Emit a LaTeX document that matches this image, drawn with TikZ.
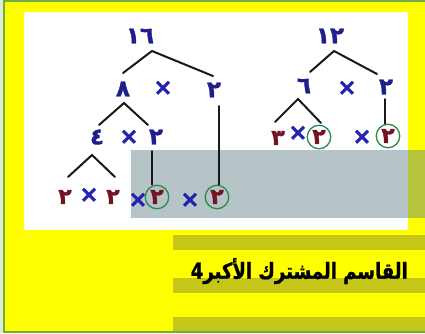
\documentclass[tikz,border=0pt]{standalone}
\usepackage{fontspec}
\TeXXeTstate=1
\newfontfamily\titlefont[Script=Arabic,BoldFeatures={FakeBold=1.4}]{DejaVu Sans}
\newfontfamily\digfont[Script=Arabic,BoldFeatures={FakeBold=1.5}]{DejaVu Sans}
\definecolor{bordergreen}{RGB}{112,173,71}
\definecolor{paleedge}{RGB}{226,236,204}
\definecolor{bgyellow}{RGB}{255,255,0}
\definecolor{olivebar}{RGB}{198,198,24}
\definecolor{veilgray}{RGB}{95,125,135}
\definecolor{numblue}{RGB}{30,30,140}
\definecolor{numred}{RGB}{115,20,35}
\definecolor{crossblue}{RGB}{35,35,175}
\definecolor{circgreen}{RGB}{40,140,70}
\tikzset{
  num/.style={font=\digfont\bfseries\fontsize{23}{23}\selectfont, text=numblue, inner sep=0pt},
  rnum/.style={font=\digfont\bfseries\fontsize{22}{22}\selectfont, text=numred, inner sep=0pt},
  cnum/.style={rnum, circle, draw=circgreen, line width=1.3pt, minimum size=23.5pt},
  cross/.style={font=\digfont\bfseries\fontsize{23}{23}\selectfont, text=crossblue, inner sep=0pt},
  branch/.style={line width=2pt, black!90, line cap=round},
  bar/.style={fill=olivebar, draw=none},
}
\begin{document}
\begin{tikzpicture}[x=1pt,y=-1pt]
\useasboundingbox (0,0) rectangle (425,333);
% background
\fill[bgyellow] (0,0) rectangle (425,333);
\fill[paleedge] (0,0) rectangle (3,333);
\draw[bordergreen, line width=2.4pt] (4.2,1) -- (4.2,332);
\draw[bordergreen, line width=2pt] (3,1) -- (425,1);
\draw[bordergreen, line width=2pt] (3,332) -- (425,332);
% white panel
\fill[white] (24,12) rectangle (408,230);
% olive bars
\fill[bar] (173,235) rectangle (425,250);
\fill[bar] (173,278) rectangle (425,292.5);
\fill[bar] (173,317) rectangle (425,331);
% grey veil
\fill[veilgray, opacity=0.45] (131,150) rectangle (425,218);

% ---- left tree (16)
\node[num] (n16) at (140,36) {١٦};
\node[num] (n8) at (123,89) {٨};
\node[cross] (x1) at (163,88) {×};
\node[num] (n2a) at (214,90) {٢};
\node[num] (n4) at (97,137) {٤};
\node[cross] (x2) at (129,137) {×};
\node[num] (n2b) at (156,137) {٢};
\node[rnum] (r1) at (65,197) {٢};
\node[cross] (x3) at (89,195) {×};
\node[rnum] (r2) at (113,197) {٢};
\node[cross] (x4) at (138,200) {×};
\node[cnum] (c1) at (157,197) {٢};
\node[cross] (x5) at (190,200) {×};
\node[cnum] (c2) at (217,197) {٢};

\coordinate (a16) at (152,51);
\coordinate (e16l) at (123,73);
\coordinate (e16r) at (213,76);
\coordinate (a8) at (124,103);
\coordinate (e8l) at (99,125);
\coordinate (e8r) at (148,125);
\coordinate (a4) at (92,155);
\coordinate (e4l) at (68,177);
\coordinate (e4r) at (115,177);
\coordinate (v1) at (152,151);
\coordinate (v2) at (219,106);

\draw[branch] (e16l) -- (a16) -- (e16r);
\draw[branch] (e8l) -- (a8) -- (e8r);
\draw[branch] (e4l) -- (a4) -- (e4r);
\draw[branch] (v1) -- (v1 |- c1.north);
\draw[branch] (v2) -- (v2 |- c2.north);

% ---- right tree (12)
\node[num] (n12) at (330,36) {١٢};
\node[num] (n6) at (304,86) {٦};
\node[cross] (x6) at (347,88) {×};
\node[num] (n2c) at (386,87) {٢};
\node[rnum] (r3) at (278,138) {٣};
\node[cross] (x7) at (298,133) {×};
\node[cnum] (c3) at (319,137) {٢};
\node[cross] (x8) at (362,137) {×};
\node[cnum] (c4) at (388,136) {٢};

\coordinate (a12) at (334,51);
\coordinate (e12l) at (310,72);
\coordinate (e12r) at (377,74);
\coordinate (a6) at (298,99);
\coordinate (e6l) at (275,122);
\coordinate (e6r) at (321,123);
\coordinate (v3) at (385,99);

\draw[branch] (e12l) -- (a12) -- (e12r);
\draw[branch] (e6l) -- (a6) -- (e6r);
\draw[branch] (v3) -- (v3 |- c4.north);

% ---- title
\node[anchor=east, inner sep=0pt, font=\titlefont\bfseries\fontsize{22}{22}\selectfont] (title) at (408,271)
  {\scalebox{0.82}[1]{4\beginR القاسم المشترك الأكبر\endR}};
\end{tikzpicture}
\end{document}
